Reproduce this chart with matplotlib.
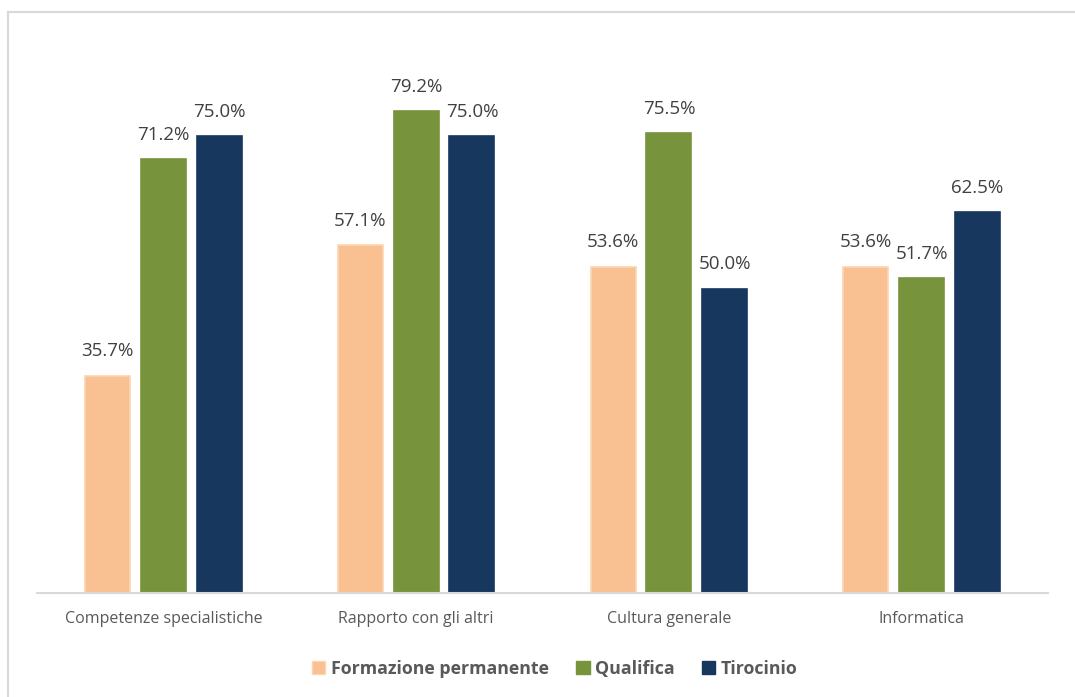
import matplotlib
matplotlib.use("Agg")
import matplotlib.pyplot as plt
from matplotlib.lines import Line2D
from matplotlib.patches import Patch
import numpy as np

categories = ["Competenze specialistiche", "Rapporto con gli altri", "Cultura generale", "Informatica"]
series_names = ["Formazione permanente", "Qualifica", "Tirocinio"]
formazione = [35.7, 57.1, 53.6, 53.6]
qualifica = [71.2, 79.2, 75.5, 51.7]
tirocinio = [75.0, 75.0, 50.0, 62.5]
values = [formazione, qualifica, tirocinio]
colors = ["#F9C191", "#77933C", "#17375E"]
edges = ["#FCD5B2", "#77933C", "#17375E"]

W, H = 1075, 697
fig = plt.figure(figsize=(W / 100, H / 100), dpi=100)
fig.patch.set_facecolor("white")

# outer border (left and top visible)
fig.add_artist(Line2D([8 / W, 8 / W], [0, 1 - 12 / H], color="#D9D9D9", lw=1.5, transform=fig.transFigure))
fig.add_artist(Line2D([8 / W, 1], [1 - 12 / H, 1 - 12 / H], color="#D9D9D9", lw=1.5, transform=fig.transFigure))

left, right, top, bottom = 37, 1048, 45, 593
ax = fig.add_axes([left / W, 1 - bottom / H, (right - left) / W, (bottom - top) / H])
ax.set_xlim(-0.5, 3.5)
ax.set_ylim(0, 90)

x = np.arange(len(categories))
pitch = 0.221
bw = 0.178
for i, (vals, c, ec) in enumerate(zip(values, colors, edges)):
    pos = x + (i - 1) * pitch
    ax.bar(pos, vals, width=bw, color=c, edgecolor=ec, linewidth=1.2, zorder=2)
    for px, v in zip(pos, vals):
        ax.text(px, v + 2.5, f"{v:.1f}%", ha="center", va="bottom",
                fontsize=13.5, color="#404040", family="Open Sans")

for s in ["top", "right", "left"]:
    ax.spines[s].set_visible(False)
ax.spines["bottom"].set_color("#D9D9D9")
ax.spines["bottom"].set_linewidth(1.5)
ax.set_yticks([])
ax.set_xticks(x)
ax.set_xticklabels(categories, fontsize=11.5, color="#595959", family="Open Sans")
ax.tick_params(axis="x", length=0, pad=13)

handles = [Patch(facecolor=c, edgecolor=ec) for c, ec in zip(colors, edges)]
fig.legend(handles, series_names, loc="center", bbox_to_anchor=(0.516, 1 - 669 / H),
           ncol=3, frameon=False, handlelength=0.75, handleheight=0.75,
           handletextpad=0.3, columnspacing=1.55,
           prop={"family": "Open Sans", "weight": "bold", "size": 12.8}, labelcolor="#595959")

fig.savefig("out.png", dpi=100)
